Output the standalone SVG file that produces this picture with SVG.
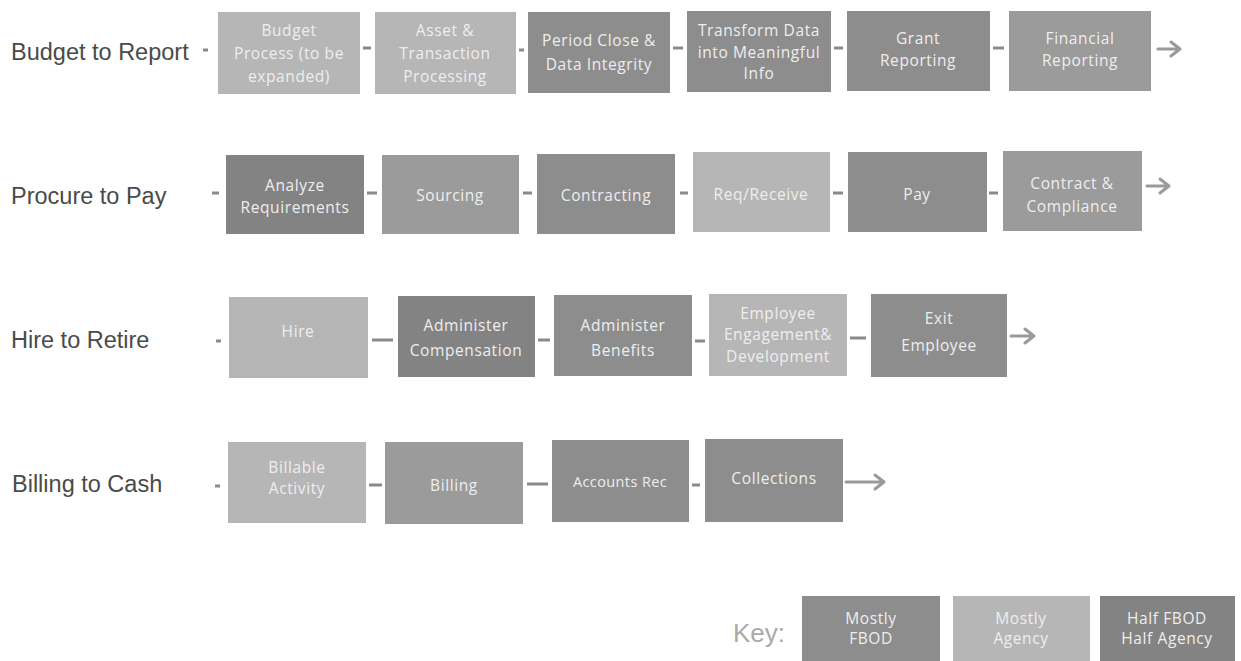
<svg xmlns="http://www.w3.org/2000/svg" width="1241" height="661" viewBox="0 0 1241 661">
<defs>
<style>
.lbl{font-family:"Liberation Sans",Arial,sans-serif;font-size:23.5px;fill:#4a4a4a}
.t{font-family:"Open Sans","Noto Sans",sans-serif;font-size:15.5px;letter-spacing:0.6px;fill:#eeeeee;text-anchor:middle}
.fbod{fill:#8d8d8d}
.agency{fill:#b6b6b6}
.half{fill:#838383}
.mid{fill:#9b9b9b}
.c{stroke:#8a8a8a;stroke-width:3;fill:none}
.a{stroke:#9a9a9a;stroke-width:3;fill:none;stroke-linecap:round;stroke-linejoin:round}
</style>
</defs>
<rect width="1241" height="661" fill="#ffffff"/>
<g id="row-labels">
<text class="lbl" x="11" y="60">Budget to Report</text>
<text class="lbl" x="11" y="204">Procure to Pay</text>
<text class="lbl" x="11" y="348">Hire to Retire</text>
<text class="lbl" x="12" y="492">Billing to Cash</text>
</g>
<g id="connectors">
<line class="c" x1="203" y1="50" x2="208" y2="50"/>
<line class="c" x1="363" y1="48" x2="371" y2="48"/>
<line class="c" x1="519" y1="50" x2="524" y2="50"/>
<line class="c" x1="673" y1="48" x2="683" y2="48"/>
<line class="c" x1="834" y1="48" x2="843" y2="48"/>
<line class="c" x1="993" y1="48" x2="1004" y2="48"/>
<path class="a" d="M1158 49 H1180 M1171 42 L1180 49 L1171 56"/>
<line class="c" x1="212" y1="193" x2="219" y2="193"/>
<line class="c" x1="367" y1="193" x2="377" y2="193"/>
<line class="c" x1="523" y1="193" x2="532" y2="193"/>
<line class="c" x1="680" y1="193" x2="688" y2="193"/>
<line class="c" x1="833" y1="193" x2="843" y2="193"/>
<line class="c" x1="989" y1="193" x2="998" y2="193"/>
<path class="a" d="M1147 186 H1169 M1160 179 L1169 186 L1160 193"/>
<line class="c" x1="216" y1="341" x2="221" y2="341"/>
<line class="c" x1="372" y1="340" x2="393" y2="340"/>
<line class="c" x1="538" y1="340" x2="550" y2="340"/>
<line class="c" x1="695" y1="341" x2="705" y2="341"/>
<line class="c" x1="850" y1="338" x2="866" y2="338"/>
<path class="a" d="M1011 336 H1034 M1025 329 L1034 336 L1025 343"/>
<line class="c" x1="215" y1="486" x2="220" y2="486"/>
<line class="c" x1="369" y1="485" x2="382" y2="485"/>
<line class="c" x1="527" y1="484" x2="548" y2="484"/>
<line class="c" x1="692" y1="485" x2="700" y2="485"/>
<path class="a" d="M846 482 H884 M875 475 L884 482 L875 489"/>
</g>
<g id="n-budget"><rect class="agency" x="218" y="12" width="142" height="82"/><text class="t" x="289" y="36">Budget</text><text class="t" x="289" y="59">Process (to be</text><text class="t" x="289" y="82">expanded)</text></g>
<g id="n-asset"><rect class="agency" x="375" y="12" width="141" height="82"/><text class="t" x="445" y="36">Asset &amp;</text><text class="t" x="445" y="59">Transaction</text><text class="t" x="445" y="82">Processing</text></g>
<g id="n-period"><rect class="fbod" x="528" y="12" width="142" height="81"/><text class="t" x="599" y="46">Period Close &amp;</text><text class="t" x="599" y="70">Data Integrity</text></g>
<g id="n-transform"><rect class="fbod" x="687" y="11" width="144" height="81"/><text class="t" x="759" y="36">Transform Data</text><text class="t" x="759" y="58">into Meaningful</text><text class="t" x="759" y="79">Info</text></g>
<g id="n-grant"><rect class="fbod" x="847" y="11" width="143" height="80"/><text class="t" x="918" y="44">Grant</text><text class="t" x="918" y="66">Reporting</text></g>
<g id="n-financial"><rect class="mid" x="1009" y="11" width="142" height="80"/><text class="t" x="1080" y="44">Financial</text><text class="t" x="1080" y="66">Reporting</text></g>

<g id="n-analyze"><rect class="half" x="226" y="155" width="138" height="79"/><text class="t" x="295" y="191">Analyze</text><text class="t" x="295" y="213">Requirements</text></g>
<g id="n-sourcing"><rect class="mid" x="382" y="155" width="137" height="79"/><text class="t" x="450" y="201">Sourcing</text></g>
<g id="n-contracting"><rect class="fbod" x="537" y="154" width="138" height="80"/><text class="t" x="606" y="201">Contracting</text></g>
<g id="n-reqreceive"><rect class="agency" x="693" y="152" width="137" height="80"/><text class="t" x="761" y="200">Req/Receive</text></g>
<g id="n-pay"><rect class="fbod" x="848" y="152" width="139" height="80"/><text class="t" x="917" y="200">Pay</text></g>
<g id="n-contract-compliance"><rect class="mid" x="1003" y="151" width="139" height="80"/><text class="t" x="1072" y="189">Contract &amp;</text><text class="t" x="1072" y="212">Compliance</text></g>

<g id="n-hire"><rect class="agency" x="229" y="297" width="139" height="81"/><text class="t" x="298" y="337">Hire</text></g>
<g id="n-admin-comp"><rect class="half" x="398" y="296" width="137" height="81"/><text class="t" x="466" y="331">Administer</text><text class="t" x="466" y="356">Compensation</text></g>
<g id="n-admin-benefits"><rect class="fbod" x="554" y="295" width="138" height="81"/><text class="t" x="623" y="331">Administer</text><text class="t" x="623" y="356">Benefits</text></g>
<g id="n-employee-dev"><rect class="agency" x="709" y="294" width="138" height="82"/><text class="t" x="778" y="319">Employee</text><text class="t" x="778" y="340">Engagement&amp;</text><text class="t" x="778" y="362">Development</text></g>
<g id="n-exit"><rect class="fbod" x="871" y="294" width="136" height="83"/><text class="t" x="939" y="324">Exit</text><text class="t" x="939" y="351">Employee</text></g>

<g id="n-billable"><rect class="agency" x="228" y="442" width="138" height="81"/><text class="t" x="297" y="473">Billable</text><text class="t" x="297" y="494">Activity</text></g>
<g id="n-billing"><rect class="mid" x="385" y="442" width="138" height="82"/><text class="t" x="454" y="491">Billing</text></g>
<g id="n-accounts-rec"><rect class="fbod" x="552" y="440" width="137" height="82"/><text class="t" x="620" y="487" style="font-size:14.5px;letter-spacing:0.4px">Accounts Rec</text></g>
<g id="n-collections"><rect class="fbod" x="705" y="439" width="138" height="83"/><text class="t" x="774" y="484">Collections</text></g>

<g id="key">
<text x="733" y="642" style="font-family:'Liberation Sans',Arial,sans-serif;font-size:26px;fill:#aaaaaa">Key:</text>
<g id="key-fbod"><rect class="fbod" x="802" y="596" width="138" height="65"/><text class="t" x="871" y="624">Mostly</text><text class="t" x="871" y="644">FBOD</text></g>
<g id="key-agency"><rect class="agency" x="953" y="596" width="137" height="65"/><text class="t" x="1021" y="624">Mostly</text><text class="t" x="1021" y="644">Agency</text></g>
<g id="key-half"><rect class="half" x="1100" y="596" width="135" height="65"/><text class="t" x="1167" y="624">Half FBOD</text><text class="t" x="1167" y="644">Half Agency</text></g>
</g>
</svg>
